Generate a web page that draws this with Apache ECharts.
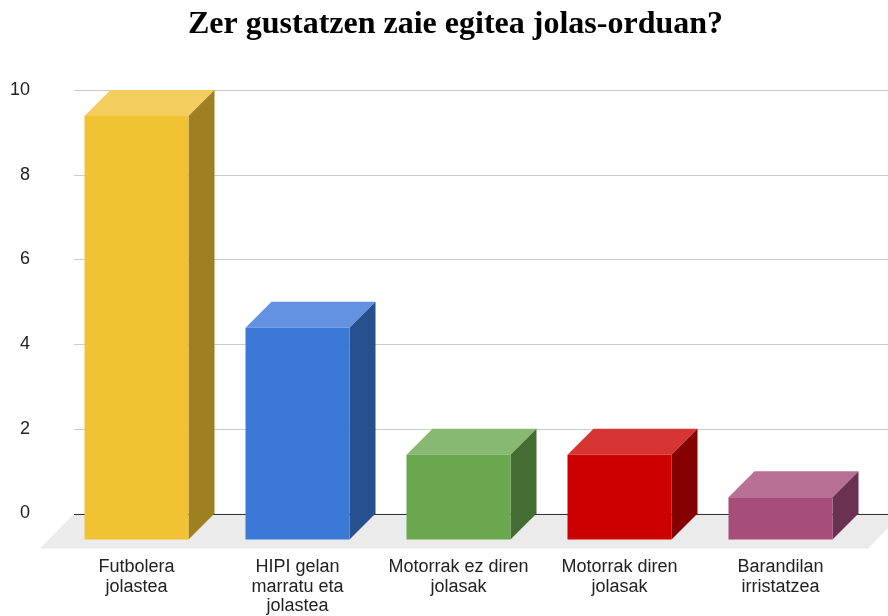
<!DOCTYPE html>
<html>
<head>
<meta charset="utf-8">
<script src="https://cdn.jsdelivr.net/npm/echarts@6/dist/echarts.min.js"></script>
<style>
  html, body { margin: 0; padding: 0; background: #fff; }
  #chart { width: 888px; height: 616px; }
</style>
</head>
<body>
<div id="chart"></div>
<script>
const categories = ['Futbolera\njolastea', 'HIPI gelan\nmarratu eta\njolastea', 'Motorrak ez diren\njolasak', 'Motorrak diren\njolasak', 'Barandilan\nirristatzea']
const values = [10, 5, 2, 2, 1]
const yTicks = [0, 2, 4, 6, 8, 10]

// front / top / side colours for each bar
const faceColors = [
  ['#f1c232', '#f3cd5d', '#9e7f21'],
  ['#3c78d8', '#6393e0', '#27508f'],
  ['#6aa84f', '#87b972', '#456d33'],
  ['#cc0000', '#d63333', '#850000'],
  ['#a64d79', '#b87194', '#6b3250']
]
const depth = 26

const chart = echarts.init(document.getElementById('chart'))

const option = {
  animation: false,
  title: {
    text: 'Zer gustatzen zaie egitea jolas-orduan?',
    left: 183,
    top: 4,
    textStyle: { fontFamily: 'Liberation Serif', fontWeight: 'bold', fontSize: 32, color: '#000' }
  },
  grid: { left: 82, right: 1, top: 90, bottom: 102 },
  xAxis: {
    type: 'category',
    data: categories,
    axisLine: { show: false },
    axisTick: { show: false },
    axisLabel: {
      interval: 0,
      margin: 44,
      padding: [0, depth * 2, 0, 0],
      fontFamily: 'Liberation Sans',
      fontSize: 18,
      lineHeight: 19.5,
      color: '#222'
    }
  },
  yAxis: {
    type: 'value',
    min: 0,
    max: 10,
    interval: 2,
    axisLine: { show: false },
    axisTick: { show: false },
    splitLine: { show: false },
    axisLabel: { margin: 52, fontFamily: 'Liberation Sans', fontSize: 18, color: '#222', padding: [4, 0, 0, 0] }
  },
  series: [
    {
      // floor and grid lines
      type: 'custom',
      silent: true,
      z: 1,
      data: [[0, 0]],
      renderItem (params, api) {
        const cs = params.coordSys
        const y0 = api.coord([0, 0])[1]
        const left = cs.x - 8
        const right = cs.x + cs.width + 1
        const children = [{
          type: 'polygon',
          shape: { points: [[left, y0], [right + 14, y0], [right - 20, y0 + 35], [left - 34, y0 + 35]] },
          style: { fill: '#ebebeb' }
        }]
        yTicks.forEach(t => {
          const y = Math.round(api.coord([0, t])[1]) + 0.5
          children.push({
            type: 'line',
            shape: { x1: left, y1: y, x2: right, y2: y },
            style: { stroke: t === 0 ? '#333' : '#cccccc', lineWidth: 1 }
          })
        })
        return { type: 'group', children }
      }
    },
    {
      type: 'custom',
      z: 2,
      data: values.map((v, i) => [i, v]),
      renderItem (params, api) {
        const i = api.value(0)
        const top = api.coord([i, api.value(1)])
        const base = api.coord([i, 0])
        const w = api.size([1, 0])[0] * 0.646
        const bx0 = top[0] - w / 2
        const bx1 = top[0] + w / 2
        const c = faceColors[params.dataIndex]
        return {
          type: 'group',
          children: [
            {
              type: 'polygon',
              shape: { points: [[bx0 - depth, top[1] + depth], [bx0, top[1]], [bx1, top[1]], [bx1 - depth, top[1] + depth]] },
              style: { fill: c[1] }
            },
            {
              type: 'polygon',
              shape: { points: [[bx1 - depth, top[1] + depth], [bx1, top[1]], [bx1, base[1]], [bx1 - depth, base[1] + depth]] },
              style: { fill: c[2] }
            },
            {
              type: 'rect',
              shape: { x: bx0 - depth, y: top[1] + depth, width: w, height: base[1] - top[1] },
              style: { fill: c[0] }
            }
          ]
        }
      }
    }
  ]
}

chart.setOption(option)
</script>
</body>
</html>
